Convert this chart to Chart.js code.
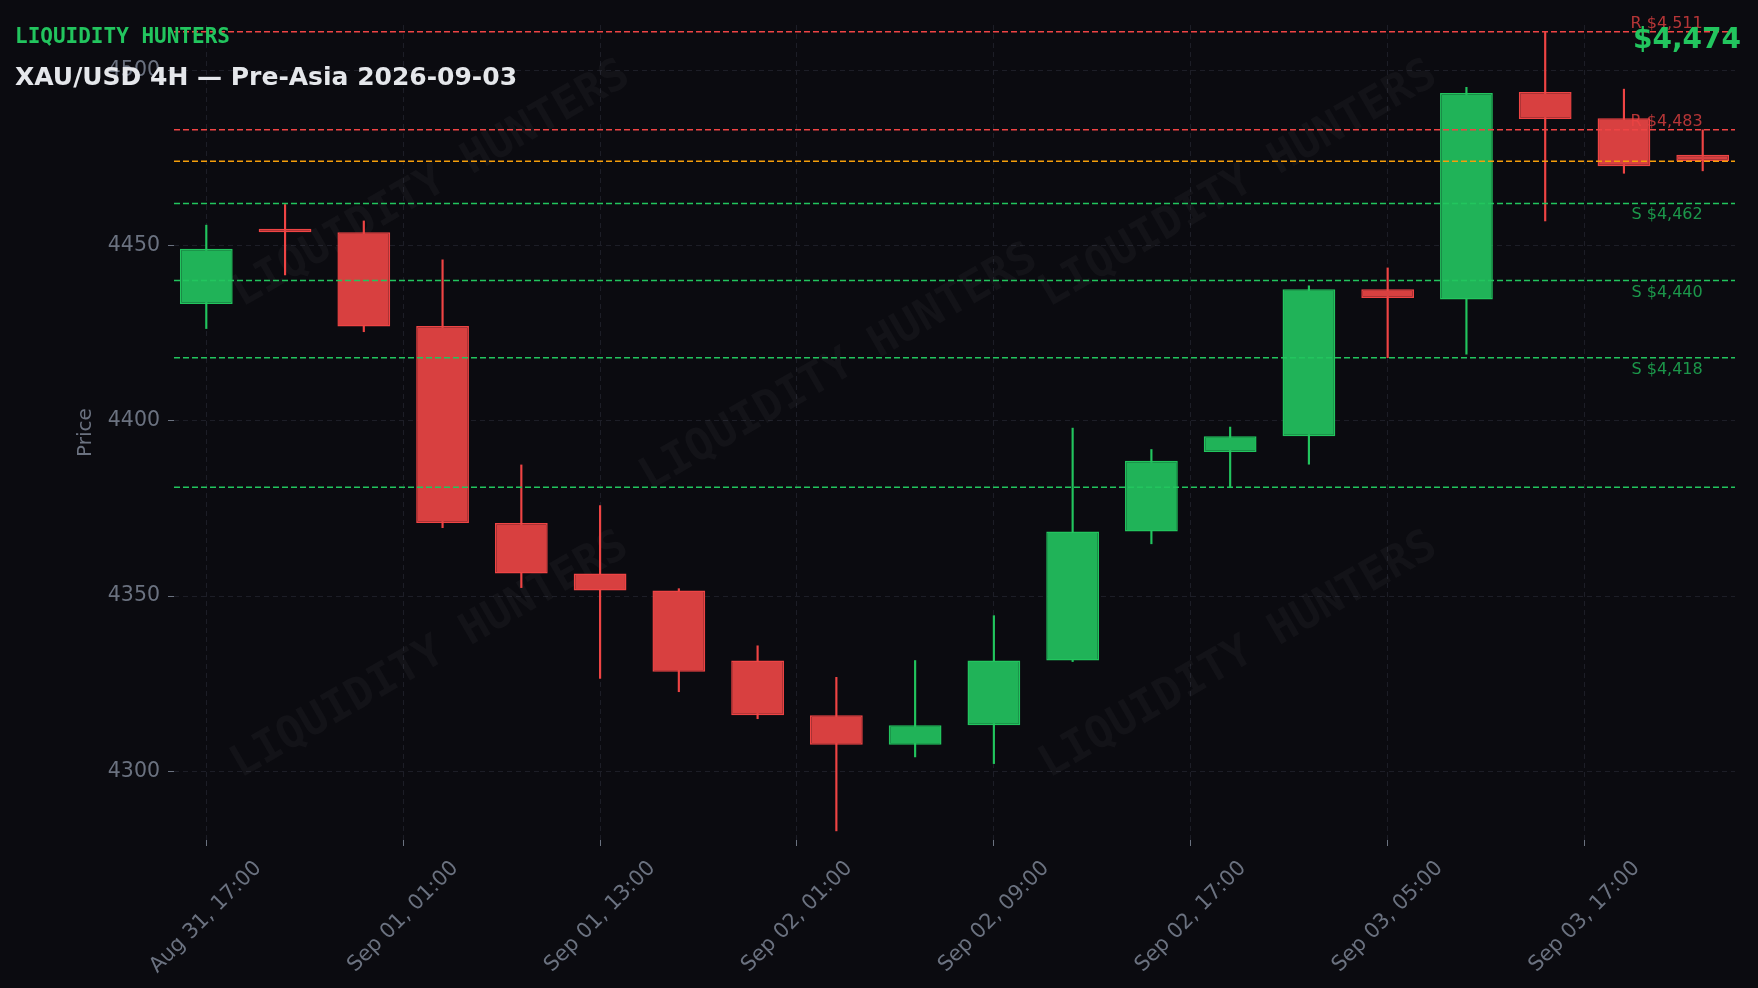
<!DOCTYPE html>
<html>
<head>
<meta charset="utf-8">
<title>XAU/USD 4H — Pre-Asia</title>
<script src="https://cdn.jsdelivr.net/npm/chart.js@4.4.1/dist/chart.umd.min.js"></script>
<style>
  html, body { margin: 0; padding: 0; background: #0b0b10; }
  #wrap { width: 1758px; height: 988px; position: relative; }
</style>
</head>
<body>
<div id="wrap"><canvas id="chart"></canvas></div>
<script>
// Bougies 4H (index 0 = Aug 31 17:00)
const opens  = [4433.3, 4454.8, 4453.8, 4427.0, 4370.8, 4356.4, 4351.6, 4331.6, 4316.0, 4307.6,
                4313.1, 4331.6, 4368.4, 4391.1, 4395.6, 4437.5, 4434.6, 4493.8, 4486.3, 4475.9];
const highs  = [4455.8, 4461.7, 4457.0, 4445.9, 4387.4, 4375.8, 4352.1, 4335.8, 4326.8, 4331.6,
                4344.4, 4397.9, 4391.8, 4398.2, 4438.5, 4443.6, 4495.1, 4511.1, 4494.6, 4483.0];
const lows   = [4426.3, 4441.6, 4425.4, 4369.5, 4352.4, 4326.5, 4322.7, 4315.0, 4283.0, 4304.1,
                4302.2, 4331.3, 4364.9, 4380.9, 4387.6, 4418.0, 4419.0, 4457.0, 4470.6, 4471.3];
const closes = [4449.1, 4453.8, 4426.9, 4370.8, 4356.4, 4351.6, 4328.4, 4316.0, 4307.6, 4313.1,
                4331.6, 4368.4, 4388.6, 4395.6, 4437.5, 4435.0, 4493.5, 4486.1, 4472.6, 4474.1];

// Étiquettes de l'axe des temps (une tous les 2,5 bougies)
const tickLabels = ['Aug 31, 17:00', 'Sep 01, 01:00', 'Sep 01, 13:00', 'Sep 02, 01:00',
                    'Sep 02, 09:00', 'Sep 02, 17:00', 'Sep 03, 05:00', 'Sep 03, 17:00'];
const tickStep = 2.5;

// Niveaux
const resistances = [4511, 4483];
const supports = [4462, 4440, 4418];
const extraLevels = [4381];
const lastPrice = 4474;

const brand = 'LIQUIDITY HUNTERS';
const title = 'XAU/USD 4H — Pre-Asia 2026-09-03';

const GREEN = '#22c55e';
const RED = '#ef4444';
const GREEN_FILL = '#20b358';
const RED_FILL = '#d84040';
const ORANGE = '#f59e0b';
const GRAY = '#6b7280';
const GRID = '#1d1e27';

Chart.defaults.font.family = "'DejaVu Sans', sans-serif";

const isUp = i => closes[i] >= opens[i];
const fmt = v => '$' + v.toLocaleString('en-US');

// Filigrane en fond
const watermarkPlugin = {
  id: 'watermark',
  beforeDatasetsDraw(chart) {
    const { ctx, chartArea: a } = chart;
    const spots = [[0.165, 0.196], [0.682, 0.196], [0.426, 0.421], [0.164, 0.774], [0.682, 0.774]];
    ctx.save();
    ctx.font = "bold 44px 'DejaVu Sans Mono', monospace";
    ctx.fillStyle = 'rgba(255,255,255,0.035)';
    ctx.textAlign = 'center';
    ctx.textBaseline = 'middle';
    spots.forEach(([fx, fy]) => {
      ctx.save();
      ctx.translate(a.left + fx * a.width, a.top + fy * a.height);
      ctx.rotate(-30 * Math.PI / 180);
      ctx.fillText(brand, 0, 0);
      ctx.restore();
    });
    ctx.restore();
  }
};

// Lignes de support / résistance
const levelsPlugin = {
  id: 'levels',
  afterDatasetsDraw(chart) {
    const { ctx, chartArea: a, scales: { x, y } } = chart;
    const labelX = x.getPixelForValue(opens.length - 1);
    const line = (v, color) => {
      const py = y.getPixelForValue(v);
      ctx.save();
      ctx.strokeStyle = color;
      ctx.lineWidth = 1.5;
      ctx.setLineDash([6, 3]);
      ctx.beginPath();
      ctx.moveTo(a.left, py);
      ctx.lineTo(a.right, py);
      ctx.stroke();
      ctx.restore();
      return py;
    };
    ctx.save();
    ctx.font = "16px 'DejaVu Sans'";
    ctx.textAlign = 'right';
    ctx.textBaseline = 'alphabetic';
    resistances.forEach(v => {
      const py = line(v, RED);
      ctx.fillStyle = 'rgba(239,68,68,0.75)';
      ctx.fillText('R ' + fmt(v), labelX, py - 4);
    });
    supports.forEach(v => {
      const py = line(v, GREEN);
      ctx.fillStyle = 'rgba(34,197,94,0.75)';
      ctx.fillText('S ' + fmt(v), labelX, py + 16);
    });
    extraLevels.forEach(v => line(v, GREEN));
    line(lastPrice, ORANGE);
    ctx.restore();
  }
};

// Titres
const headerPlugin = {
  id: 'header',
  afterDraw(chart) {
    const { ctx, width } = chart;
    ctx.save();
    ctx.textBaseline = 'middle';
    ctx.textAlign = 'left';
    ctx.fillStyle = GREEN;
    ctx.font = "bold 21px 'DejaVu Sans Mono', monospace";
    ctx.fillText(brand, 15, 38);
    ctx.fillStyle = '#e5e7eb';
    ctx.font = "bold 25px 'DejaVu Sans'";
    ctx.fillText(title, 15, 78);
    ctx.textAlign = 'right';
    ctx.fillStyle = GREEN;
    ctx.font = "bold 28px 'DejaVu Sans'";
    ctx.fillText(fmt(lastPrice), width - 17, 41);
    ctx.restore();
  }
};

const wickData = lows.map((l, i) => ({ x: i, y: [l, highs[i]] }));
const bodyData = opens.map((o, i) => ({ x: i, y: [o, closes[i]] }));

const config = {
  type: 'bar',
  data: {
    datasets: [
      {
        label: 'body',
        data: bodyData,
        backgroundColor: c => isUp(c.dataIndex) ? GREEN_FILL : RED_FILL,
        borderColor: c => isUp(c.dataIndex) ? GREEN : RED,
        borderWidth: 1.5,
        borderSkipped: false,
        barPercentage: 0.67,
        categoryPercentage: 1,
        grouped: false,
        order: 1
      },
      {
        label: 'wick',
        data: wickData,
        backgroundColor: c => isUp(c.dataIndex) ? GREEN : RED,
        borderWidth: 0,
        barThickness: 1.5,
        grouped: false,
        order: 2
      }
    ]
  },
  options: {
    responsive: true,
    maintainAspectRatio: false,
    animation: false,
    layout: { padding: { top: 25, right: 23, left: 0, bottom: 0 } },
    plugins: { legend: { display: false }, tooltip: { enabled: false } },
    scales: {
      x: {
        type: 'linear',
        min: -0.41,
        max: 19.41,
        offset: false,
        afterFit: s => { s.height = 148; },
        border: { display: false, dash: [5, 4] },
        grid: { color: GRID, offset: false, tickColor: GRAY, tickLength: 6, tickBorderDash: [] },
        ticks: {
          stepSize: tickStep,
          includeBounds: false,
          autoSkip: false,
          minRotation: 45,
          maxRotation: 45,
          labelOffset: 52,
          padding: 10,
          color: GRAY,
          font: { size: 21 },
          callback: v => tickLabels[Math.round(v / tickStep)] || ''
        }
      },
      y: {
        min: 4280.4,
        max: 4512.9,
        afterFit: s => { s.width = 174; },
        border: { display: false, dash: [5, 4] },
        grid: { color: GRID, tickColor: GRAY, tickLength: 6, tickBorderDash: [] },
        ticks: {
          stepSize: 50,
          includeBounds: false,
          padding: 8,
          color: GRAY,
          font: { size: 20.5 },
          callback: v => String(v)
        },
        title: {
          display: true,
          text: 'Price',
          color: GRAY,
          font: { size: 20 },
          padding: { top: 74, bottom: 0 }
        }
      }
    }
  },
  plugins: [watermarkPlugin, levelsPlugin, headerPlugin]
};

new Chart(document.getElementById('chart').getContext('2d'), config);
</script>
</body>
</html>
